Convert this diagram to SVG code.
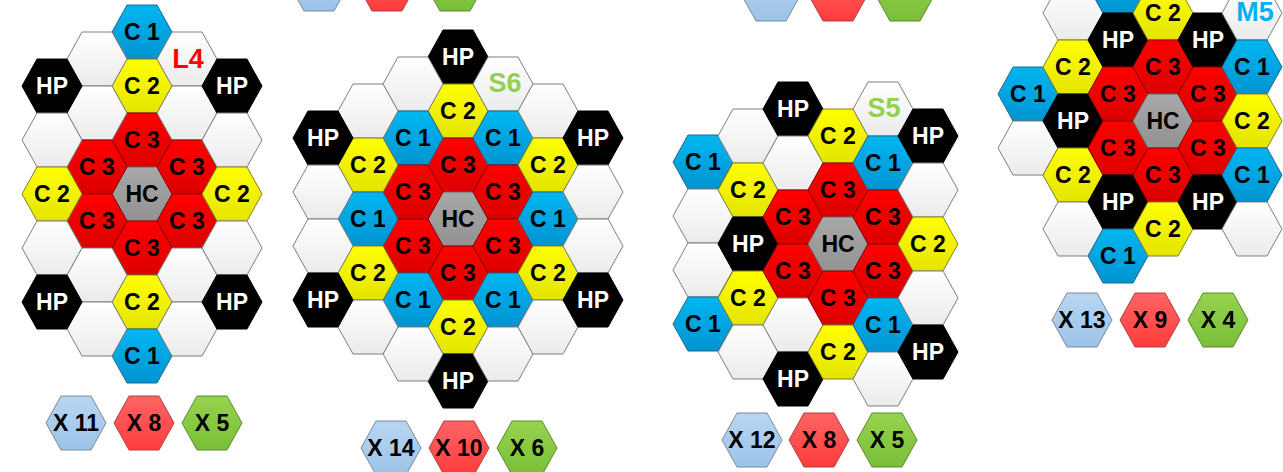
<svg xmlns="http://www.w3.org/2000/svg" xmlns:xlink="http://www.w3.org/1999/xlink" width="1283" height="472" viewBox="0 0 1283 472">
<defs>
<linearGradient id="gW" x1="0" y1="0" x2="0" y2="1"><stop offset="0" stop-color="#ffffff"/><stop offset="1" stop-color="#ebebeb"/></linearGradient>
<linearGradient id="gB" x1="0" y1="0" x2="0" y2="1"><stop offset="0" stop-color="#00b6f0"/><stop offset="1" stop-color="#0094d2"/></linearGradient>
<linearGradient id="gY" x1="0" y1="0" x2="0" y2="1"><stop offset="0" stop-color="#ffff00"/><stop offset="1" stop-color="#e4e400"/></linearGradient>
<linearGradient id="gR" x1="0" y1="0" x2="0" y2="1"><stop offset="0" stop-color="#ff0000"/><stop offset="1" stop-color="#dc0000"/></linearGradient>
<linearGradient id="gG" x1="0" y1="0" x2="0" y2="1"><stop offset="0" stop-color="#a8a8a8"/><stop offset="1" stop-color="#929292"/></linearGradient>
<linearGradient id="gLB" x1="0" y1="0" x2="0" y2="1"><stop offset="0" stop-color="#b8d6f2"/><stop offset="1" stop-color="#9cc3e8"/></linearGradient>
<linearGradient id="gLR" x1="0" y1="0" x2="0" y2="1"><stop offset="0" stop-color="#ff6464"/><stop offset="1" stop-color="#ff3c3c"/></linearGradient>
<linearGradient id="gLG" x1="0" y1="0" x2="0" y2="1"><stop offset="0" stop-color="#96d24e"/><stop offset="1" stop-color="#7abf38"/></linearGradient>
<path id="hx" d="M-30,0 L-15,-27 L15,-27 L30,0 L15,27 L-15,27 Z"/>
</defs>
<style>
.w use{fill:url(#gW);stroke:#7f7f7f;stroke-width:1}
.c1 use{fill:url(#gB);stroke:#23688c;stroke-width:1}
.c2 use{fill:url(#gY);stroke:#80802a;stroke-width:1}
.c3 use{fill:url(#gR);stroke:#8c0000;stroke-width:1}
.hc use{fill:url(#gG);stroke:#6a6a6a;stroke-width:1}
.hp use{fill:#000000;stroke:#000000;stroke-width:1}
.lb use{fill:url(#gLB);stroke:#7a8a9a;stroke-width:1}
.lr use{fill:url(#gLR);stroke:#b04040;stroke-width:1}
.lg use{fill:url(#gLG);stroke:#5a8a30;stroke-width:1}
text{font-family:"Liberation Sans",Arial,sans-serif;font-weight:bold;font-size:23px;text-anchor:middle;fill:#000000}
.hp text{fill:#ffffff}
.lbl{font-size:27px}
</style>

<g id="panel-L4">
<g id="l4-a1" class="c1" transform="translate(142,32)"><use href="#hx"/><text y="8">C 1</text></g>
<g id="l4-a2" class="c2" transform="translate(142,86)"><use href="#hx"/><text y="8">C 2</text></g>
<g id="l4-a3" class="c3" transform="translate(142,140)"><use href="#hx"/><text y="8">C 3</text></g>
<g id="l4-a4" class="hc" transform="translate(142,194)"><use href="#hx"/><text y="8">HC</text></g>
<g id="l4-a5" class="c3" transform="translate(142,248)"><use href="#hx"/><text y="8">C 3</text></g>
<g id="l4-a6" class="c2" transform="translate(142,302)"><use href="#hx"/><text y="8">C 2</text></g>
<g id="l4-a7" class="c1" transform="translate(142,356)"><use href="#hx"/><text y="8">C 1</text></g>
<g id="l4-b1" class="w" transform="translate(97,59)"><use href="#hx"/></g>
<g id="l4-b2" class="w" transform="translate(97,113)"><use href="#hx"/></g>
<g id="l4-b3" class="c3" transform="translate(97,167)"><use href="#hx"/><text y="8">C 3</text></g>
<g id="l4-b4" class="c3" transform="translate(97,221)"><use href="#hx"/><text y="8">C 3</text></g>
<g id="l4-b5" class="w" transform="translate(97,275)"><use href="#hx"/></g>
<g id="l4-b6" class="w" transform="translate(97,329)"><use href="#hx"/></g>
<g id="l4-c1" class="w" transform="translate(187,59)"><use href="#hx"/><text class="lbl" x="1" y="9" style="fill:#ff0000">L4</text></g>
<g id="l4-c2" class="w" transform="translate(187,113)"><use href="#hx"/></g>
<g id="l4-c3" class="c3" transform="translate(187,167)"><use href="#hx"/><text y="8">C 3</text></g>
<g id="l4-c4" class="c3" transform="translate(187,221)"><use href="#hx"/><text y="8">C 3</text></g>
<g id="l4-c5" class="w" transform="translate(187,275)"><use href="#hx"/></g>
<g id="l4-c6" class="w" transform="translate(187,329)"><use href="#hx"/></g>
<g id="l4-d1" class="hp" transform="translate(52,86)"><use href="#hx"/><text y="8">HP</text></g>
<g id="l4-d2" class="w" transform="translate(52,140)"><use href="#hx"/></g>
<g id="l4-d3" class="c2" transform="translate(52,194)"><use href="#hx"/><text y="8">C 2</text></g>
<g id="l4-d4" class="w" transform="translate(52,248)"><use href="#hx"/></g>
<g id="l4-d5" class="hp" transform="translate(52,302)"><use href="#hx"/><text y="8">HP</text></g>
<g id="l4-e1" class="hp" transform="translate(232,86)"><use href="#hx"/><text y="8">HP</text></g>
<g id="l4-e2" class="w" transform="translate(232,140)"><use href="#hx"/></g>
<g id="l4-e3" class="c2" transform="translate(232,194)"><use href="#hx"/><text y="8">C 2</text></g>
<g id="l4-e4" class="w" transform="translate(232,248)"><use href="#hx"/></g>
<g id="l4-e5" class="hp" transform="translate(232,302)"><use href="#hx"/><text y="8">HP</text></g>
<g id="l4-x1" class="lb" transform="translate(76,423)"><use href="#hx"/><text y="8">X 11</text></g>
<g id="l4-x2" class="lr" transform="translate(144,423)"><use href="#hx"/><text y="8">X 8</text></g>
<g id="l4-x3" class="lg" transform="translate(212,423)"><use href="#hx"/><text y="8">X 5</text></g>
</g>

<g id="panel-S6">
<g id="s6-t1" class="lb" transform="translate(319,-16)"><use href="#hx"/></g>
<g id="s6-t2" class="lr" transform="translate(387,-16)"><use href="#hx"/></g>
<g id="s6-t3" class="lg" transform="translate(455,-16)"><use href="#hx"/></g>
<g id="s6-a1" class="hp" transform="translate(458,57)"><use href="#hx"/><text y="8">HP</text></g>
<g id="s6-a2" class="c2" transform="translate(458,111)"><use href="#hx"/><text y="8">C 2</text></g>
<g id="s6-a3" class="c3" transform="translate(458,165)"><use href="#hx"/><text y="8">C 3</text></g>
<g id="s6-a4" class="hc" transform="translate(458,219)"><use href="#hx"/><text y="8">HC</text></g>
<g id="s6-a5" class="c3" transform="translate(458,273)"><use href="#hx"/><text y="8">C 3</text></g>
<g id="s6-a6" class="c2" transform="translate(458,327)"><use href="#hx"/><text y="8">C 2</text></g>
<g id="s6-a7" class="hp" transform="translate(458,381)"><use href="#hx"/><text y="8">HP</text></g>
<g id="s6-b1" class="w" transform="translate(413,84)"><use href="#hx"/></g>
<g id="s6-b2" class="c1" transform="translate(413,138)"><use href="#hx"/><text y="8">C 1</text></g>
<g id="s6-b3" class="c3" transform="translate(413,192)"><use href="#hx"/><text y="8">C 3</text></g>
<g id="s6-b4" class="c3" transform="translate(413,246)"><use href="#hx"/><text y="8">C 3</text></g>
<g id="s6-b5" class="c1" transform="translate(413,300)"><use href="#hx"/><text y="8">C 1</text></g>
<g id="s6-b6" class="w" transform="translate(413,354)"><use href="#hx"/></g>
<g id="s6-c1" class="w" transform="translate(503,84)"><use href="#hx"/><text class="lbl" x="2" y="8" style="fill:#92d050">S6</text></g>
<g id="s6-c2" class="c1" transform="translate(503,138)"><use href="#hx"/><text y="8">C 1</text></g>
<g id="s6-c3" class="c3" transform="translate(503,192)"><use href="#hx"/><text y="8">C 3</text></g>
<g id="s6-c4" class="c3" transform="translate(503,246)"><use href="#hx"/><text y="8">C 3</text></g>
<g id="s6-c5" class="c1" transform="translate(503,300)"><use href="#hx"/><text y="8">C 1</text></g>
<g id="s6-c6" class="w" transform="translate(503,354)"><use href="#hx"/></g>
<g id="s6-d1" class="w" transform="translate(368,111)"><use href="#hx"/></g>
<g id="s6-d2" class="c2" transform="translate(368,165)"><use href="#hx"/><text y="8">C 2</text></g>
<g id="s6-d3" class="c1" transform="translate(368,219)"><use href="#hx"/><text y="8">C 1</text></g>
<g id="s6-d4" class="c2" transform="translate(368,273)"><use href="#hx"/><text y="8">C 2</text></g>
<g id="s6-d5" class="w" transform="translate(368,327)"><use href="#hx"/></g>
<g id="s6-e1" class="w" transform="translate(548,111)"><use href="#hx"/></g>
<g id="s6-e2" class="c2" transform="translate(548,165)"><use href="#hx"/><text y="8">C 2</text></g>
<g id="s6-e3" class="c1" transform="translate(548,219)"><use href="#hx"/><text y="8">C 1</text></g>
<g id="s6-e4" class="c2" transform="translate(548,273)"><use href="#hx"/><text y="8">C 2</text></g>
<g id="s6-e5" class="w" transform="translate(548,327)"><use href="#hx"/></g>
<g id="s6-f1" class="hp" transform="translate(323,138)"><use href="#hx"/><text y="8">HP</text></g>
<g id="s6-f2" class="w" transform="translate(323,192)"><use href="#hx"/></g>
<g id="s6-f3" class="w" transform="translate(323,246)"><use href="#hx"/></g>
<g id="s6-f4" class="hp" transform="translate(323,300)"><use href="#hx"/><text y="8">HP</text></g>
<g id="s6-g1" class="hp" transform="translate(593,138)"><use href="#hx"/><text y="8">HP</text></g>
<g id="s6-g2" class="w" transform="translate(593,192)"><use href="#hx"/></g>
<g id="s6-g3" class="w" transform="translate(593,246)"><use href="#hx"/></g>
<g id="s6-g4" class="hp" transform="translate(593,300)"><use href="#hx"/><text y="8">HP</text></g>
<g id="s6-x1" class="lb" transform="translate(391,448)"><use href="#hx"/><text y="8">X 14</text></g>
<g id="s6-x2" class="lr" transform="translate(459,448)"><use href="#hx"/><text y="8">X 10</text></g>
<g id="s6-x3" class="lg" transform="translate(527,448)"><use href="#hx"/><text y="8">X 6</text></g>
</g>

<g id="panel-S5">
<g id="s5-t1" class="lb" transform="translate(771,-6)"><use href="#hx"/></g>
<g id="s5-t2" class="lr" transform="translate(838,-6)"><use href="#hx"/></g>
<g id="s5-t3" class="lg" transform="translate(905,-6)"><use href="#hx"/></g>
<g id="s5-a1" class="c1" transform="translate(703,162)"><use href="#hx"/><text y="8">C 1</text></g>
<g id="s5-a2" class="w" transform="translate(703,216)"><use href="#hx"/></g>
<g id="s5-a3" class="w" transform="translate(703,270)"><use href="#hx"/></g>
<g id="s5-a4" class="c1" transform="translate(703,324)"><use href="#hx"/><text y="8">C 1</text></g>
<g id="s5-b1" class="w" transform="translate(748,136)"><use href="#hx"/></g>
<g id="s5-b2" class="c2" transform="translate(748,190)"><use href="#hx"/><text y="8">C 2</text></g>
<g id="s5-b3" class="hp" transform="translate(748,244)"><use href="#hx"/><text y="8">HP</text></g>
<g id="s5-b4" class="c2" transform="translate(748,298)"><use href="#hx"/><text y="8">C 2</text></g>
<g id="s5-b5" class="w" transform="translate(748,352)"><use href="#hx"/></g>
<g id="s5-c1" class="hp" transform="translate(793,109)"><use href="#hx"/><text y="8">HP</text></g>
<g id="s5-c2" class="w" transform="translate(793,163)"><use href="#hx"/></g>
<g id="s5-c3" class="c3" transform="translate(793,217)"><use href="#hx"/><text y="8">C 3</text></g>
<g id="s5-c4" class="c3" transform="translate(793,271)"><use href="#hx"/><text y="8">C 3</text></g>
<g id="s5-c5" class="w" transform="translate(793,325)"><use href="#hx"/></g>
<g id="s5-c6" class="hp" transform="translate(793,379)"><use href="#hx"/><text y="8">HP</text></g>
<g id="s5-d1" class="c2" transform="translate(838,136)"><use href="#hx"/><text y="8">C 2</text></g>
<g id="s5-d2" class="c3" transform="translate(838,190)"><use href="#hx"/><text y="8">C 3</text></g>
<g id="s5-d3" class="hc" transform="translate(838,244)"><use href="#hx"/><text y="8">HC</text></g>
<g id="s5-d4" class="c3" transform="translate(838,298)"><use href="#hx"/><text y="8">C 3</text></g>
<g id="s5-d5" class="c2" transform="translate(838,352)"><use href="#hx"/><text y="8">C 2</text></g>
<g id="s5-e1" class="w" transform="translate(883,109)"><use href="#hx"/><text class="lbl" x="1" y="8" style="fill:#92d050">S5</text></g>
<g id="s5-e2" class="c1" transform="translate(883,163)"><use href="#hx"/><text y="8">C 1</text></g>
<g id="s5-e3" class="c3" transform="translate(883,217)"><use href="#hx"/><text y="8">C 3</text></g>
<g id="s5-e4" class="c3" transform="translate(883,271)"><use href="#hx"/><text y="8">C 3</text></g>
<g id="s5-e5" class="c1" transform="translate(883,325)"><use href="#hx"/><text y="8">C 1</text></g>
<g id="s5-e6" class="w" transform="translate(883,379)"><use href="#hx"/></g>
<g id="s5-f1" class="hp" transform="translate(928,136)"><use href="#hx"/><text y="8">HP</text></g>
<g id="s5-f2" class="w" transform="translate(928,190)"><use href="#hx"/></g>
<g id="s5-f3" class="c2" transform="translate(928,244)"><use href="#hx"/><text y="8">C 2</text></g>
<g id="s5-f4" class="w" transform="translate(928,298)"><use href="#hx"/></g>
<g id="s5-f5" class="hp" transform="translate(928,352)"><use href="#hx"/><text y="8">HP</text></g>
<g id="s5-x1" class="lb" transform="translate(752,440)"><use href="#hx"/><text y="8">X 12</text></g>
<g id="s5-x2" class="lr" transform="translate(819,440)"><use href="#hx"/><text y="8">X 8</text></g>
<g id="s5-x3" class="lg" transform="translate(887,440)"><use href="#hx"/><text y="8">X 5</text></g>
</g>

<g id="panel-M5">
<g id="m5-a1" class="c1" transform="translate(1028,94)"><use href="#hx"/><text y="8">C 1</text></g>
<g id="m5-a2" class="w" transform="translate(1028,148)"><use href="#hx"/></g>
<g id="m5-b1" class="w" transform="translate(1073,13)"><use href="#hx"/></g>
<g id="m5-b2" class="c2" transform="translate(1073,67)"><use href="#hx"/><text y="8">C 2</text></g>
<g id="m5-b3" class="hp" transform="translate(1073,121)"><use href="#hx"/><text y="8">HP</text></g>
<g id="m5-b4" class="c2" transform="translate(1073,175)"><use href="#hx"/><text y="8">C 2</text></g>
<g id="m5-b5" class="w" transform="translate(1073,229)"><use href="#hx"/></g>
<g id="m5-c0" class="c1" transform="translate(1118,-14)"><use href="#hx"/></g>
<g id="m5-c1" class="hp" transform="translate(1118,40)"><use href="#hx"/><text y="8">HP</text></g>
<g id="m5-c2" class="c3" transform="translate(1118,94)"><use href="#hx"/><text y="8">C 3</text></g>
<g id="m5-c3" class="c3" transform="translate(1118,148)"><use href="#hx"/><text y="8">C 3</text></g>
<g id="m5-c4" class="hp" transform="translate(1118,202)"><use href="#hx"/><text y="8">HP</text></g>
<g id="m5-c5" class="c1" transform="translate(1118,256)"><use href="#hx"/><text y="8">C 1</text></g>
<g id="m5-d1" class="c2" transform="translate(1163,13)"><use href="#hx"/><text y="8">C 2</text></g>
<g id="m5-d2" class="c3" transform="translate(1163,67)"><use href="#hx"/><text y="8">C 3</text></g>
<g id="m5-d3" class="hc" transform="translate(1163,121)"><use href="#hx"/><text y="8">HC</text></g>
<g id="m5-d4" class="c3" transform="translate(1163,175)"><use href="#hx"/><text y="8">C 3</text></g>
<g id="m5-d5" class="c2" transform="translate(1163,229)"><use href="#hx"/><text y="8">C 2</text></g>
<g id="m5-e1" class="hp" transform="translate(1208,40)"><use href="#hx"/><text y="8">HP</text></g>
<g id="m5-e2" class="c3" transform="translate(1208,94)"><use href="#hx"/><text y="8">C 3</text></g>
<g id="m5-e3" class="c3" transform="translate(1208,148)"><use href="#hx"/><text y="8">C 3</text></g>
<g id="m5-e4" class="hp" transform="translate(1208,202)"><use href="#hx"/><text y="8">HP</text></g>
<g id="m5-f1" class="w" transform="translate(1252,13)"><use href="#hx"/><text class="lbl" x="3" y="8" style="fill:#00b0f0">M5</text></g>
<g id="m5-f2" class="c1" transform="translate(1252,67)"><use href="#hx"/><text y="8">C 1</text></g>
<g id="m5-f3" class="c2" transform="translate(1252,121)"><use href="#hx"/><text y="8">C 2</text></g>
<g id="m5-f4" class="c1" transform="translate(1252,175)"><use href="#hx"/><text y="8">C 1</text></g>
<g id="m5-f5" class="w" transform="translate(1252,229)"><use href="#hx"/></g>
<g id="m5-x1" class="lb" transform="translate(1082,320)"><use href="#hx"/><text y="8">X 13</text></g>
<g id="m5-x2" class="lr" transform="translate(1150,320)"><use href="#hx"/><text y="8">X 9</text></g>
<g id="m5-x3" class="lg" transform="translate(1218,320)"><use href="#hx"/><text y="8">X 4</text></g>
</g>
</svg>
